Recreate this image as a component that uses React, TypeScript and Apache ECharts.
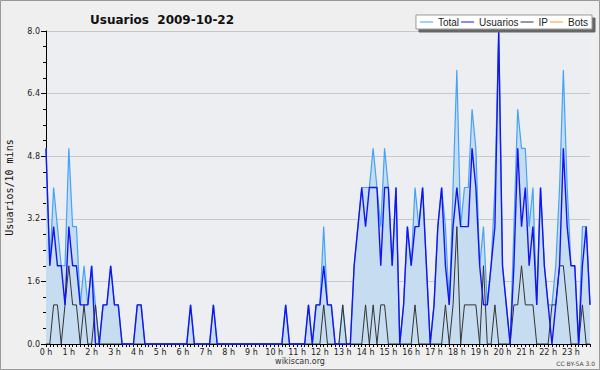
import React, { useEffect, useRef } from "react";
import * as echarts from "echarts";

// Hour tick labels (one every 6 ten-minute slots)
const hourLabels = [
  "0 h", "1 h", "2 h", "3 h", "4 h", "5 h", "6 h", "7 h", "8 h", "9 h", "10 h", "11 h",
  "12 h", "13 h", "14 h", "15 h", "16 h", "17 h", "18 h", "19 h", "20 h", "21 h", "22 h", "23 h",
];

// Values per 10-minute slot (144 slots)
const usuarios = [
  5, 2, 3, 2, 2, 1, 3, 2, 2, 1, 1, 1,
  2, 0, 0, 1, 1, 2, 1, 1, 0, 0, 0, 0,
  1, 1, 0, 0, 0, 0, 0, 0, 0, 0, 0, 0,
  0, 0, 1, 0, 0, 0, 0, 0, 1, 0, 0, 0,
  0, 0, 0, 0, 0, 0, 0, 0, 0, 0, 0, 0,
  0, 0, 0, 1, 0, 0, 0, 0, 0, 1, 0, 1,
  1, 2, 1, 1, 0, 0, 0, 0, 0, 2, 3, 4,
  3, 4, 4, 4, 2, 4, 4, 2, 4, 0, 1, 3,
  2, 3, 3, 4, 2, 0, 1, 3, 4, 2, 1, 3,
  4, 3, 3, 3, 5, 4, 2, 1, 1, 2, 3, 8,
  2, 1, 0, 2, 5, 3, 4, 2, 3, 1, 4, 2,
  1, 0, 1, 2, 5, 3, 2, 2, 0, 2, 3, 1,
];

const ip = [
  0, 0, 1, 1, 0, 1, 2, 1, 1, 0, 1, 0,
  0, 1, 0, 0, 0, 0, 0, 0, 0, 0, 0, 0,
  0, 0, 0, 0, 0, 0, 0, 0, 0, 0, 0, 0,
  0, 0, 0, 0, 0, 0, 0, 0, 0, 0, 0, 0,
  0, 0, 0, 0, 0, 0, 0, 0, 0, 0, 0, 0,
  0, 0, 0, 0, 0, 0, 0, 0, 0, 0, 0, 0,
  0, 1, 0, 0, 0, 0, 1, 0, 0, 0, 0, 0,
  1, 0, 1, 0, 1, 1, 0, 0, 0, 0, 0, 0,
  0, 1, 0, 0, 0, 0, 0, 0, 0, 1, 0, 1,
  3, 0, 1, 1, 1, 1, 0, 2, 0, 0, 1, 0,
  0, 0, 0, 1, 1, 2, 1, 1, 1, 0, 0, 0,
  0, 1, 1, 2, 2, 1, 0, 0, 0, 1, 0, 0,
];

const total = [
  5, 2, 4, 3, 2, 2, 5, 3, 3, 1, 2, 1,
  2, 1, 0, 1, 1, 2, 1, 1, 0, 0, 0, 0,
  1, 1, 0, 0, 0, 0, 0, 0, 0, 0, 0, 0,
  0, 0, 1, 0, 0, 0, 0, 0, 1, 0, 0, 0,
  0, 0, 0, 0, 0, 0, 0, 0, 0, 0, 0, 0,
  0, 0, 0, 1, 0, 0, 0, 0, 0, 1, 0, 1,
  1, 3, 1, 1, 0, 0, 1, 0, 0, 2, 3, 4,
  4, 4, 5, 4, 3, 5, 4, 2, 4, 0, 1, 3,
  2, 4, 3, 4, 2, 0, 1, 3, 4, 3, 1, 4,
  7, 3, 4, 4, 6, 5, 2, 3, 1, 2, 4, 8,
  2, 1, 0, 3, 6, 5, 5, 3, 4, 1, 4, 2,
  1, 1, 2, 4, 7, 4, 2, 2, 0, 3, 3, 1,
];

const bots: number[] = [];

const slotsPerHour = 6;
const categories = total.map((_, i) =>
  i % slotsPerHour === 0 ? hourLabels[i / slotsPerHour] : ""
);

export default function App() {
  const ref = useRef<HTMLDivElement>(null);

  useEffect(() => {
    if (!ref.current) return;
    const chart = echarts.init(ref.current, undefined, { renderer: "svg" });
    const font = "DejaVu Sans";
    chart.setOption({
      animation: false,
      backgroundColor: "#efefef",
      title: {
        text: "Usuarios  2009-10-22",
        left: 85,
        top: 9,
        textStyle: { fontFamily: font, fontSize: 12, fontWeight: "bold", color: "#111" },
      },
      legend: {
        right: 8,
        top: 15,
        icon: "rect",
        itemWidth: 13,
        itemHeight: 1,
        itemGap: 2,
        padding: [2, 4, 2, 4],
        backgroundColor: "#ffffff",
        borderColor: "#999",
        borderWidth: 1,
        shadowColor: "#666",
        shadowOffsetX: 3,
        shadowOffsetY: 3,
        shadowBlur: 0,
        textStyle: { fontFamily: "Liberation Sans", fontSize: 10, color: "#222" },
        data: ["Total", "Usuarios", "IP", "Bots"],
      },
      grid: {
        left: 46,
        right: 10,
        top: 31,
        bottom: 26,
        show: true,
        backgroundColor: "#eceef1",
        borderWidth: 0,
        containLabel: false,
        outerBoundsMode: "none",
      },
      xAxis: {
        type: "category",
        boundaryGap: false,
        data: categories,
        axisLine: { lineStyle: { color: "#000", width: 1 } },
        axisTick: { show: true, interval: 0, length: 3, lineStyle: { color: "#000" } },
        axisLabel: {
          interval: (i: number) => i % slotsPerHour === 0,
          margin: 4,
          fontFamily: font,
          fontSize: 8,
          color: "#222",
        },
        splitLine: { show: false },
      },
      yAxis: {
        type: "value",
        min: 0,
        max: 8,
        interval: 1.6,
        name: "Usuarios/10 mins",
        nameLocation: "middle",
        nameGap: 32,
        nameTextStyle: { fontFamily: "DejaVu Sans Mono", fontSize: 10, color: "#111" },
        axisLine: { show: true, lineStyle: { color: "#000", width: 1 } },
        axisTick: { show: true, length: 5, lineStyle: { color: "#000" } },
        minorTick: { show: true, splitNumber: 4, length: 3, lineStyle: { color: "#000" } },
        axisLabel: {
          margin: 6,
          fontFamily: font,
          fontSize: 8,
          color: "#222",
          formatter: (v: number) => v.toFixed(1),
        },
        splitLine: { show: true, lineStyle: { color: "#c8c8c8", width: 1 } },
      },
      series: [
        {
          name: "Total",
          type: "line",
          data: total,
          symbol: "none",
          itemStyle: { color: "#44a2f8" },
          lineStyle: { color: "#44a2f8", width: 1.2 },
          areaStyle: { color: "#c6dcf0", opacity: 1 },
          z: 1,
        },
        {
          name: "Usuarios",
          type: "line",
          data: usuarios,
          symbol: "none",
          itemStyle: { color: "#1414f0" },
          lineStyle: { color: "#1414f0", width: 1.4 },
          z: 3,
        },
        {
          name: "IP",
          type: "line",
          data: ip,
          symbol: "none",
          itemStyle: { color: "#333333" },
          lineStyle: { color: "#333333", width: 1 },
          z: 2,
        },
        {
          name: "Bots",
          type: "line",
          data: bots,
          symbol: "none",
          itemStyle: { color: "#ff9a1a" },
          lineStyle: { color: "#ff9a1a", width: 1 },
          z: 4,
        },
      ],
      graphic: [
        {
          type: "rect",
          shape: { x: 0.5, y: 0.5, width: 599, height: 369 },
          style: { fill: "none", stroke: "#9a9a9a", lineWidth: 1 },
          silent: true,
        },
        {
          type: "text",
          x: 300,
          y: 361,
          style: {
            text: "wikiscan.org",
            fontFamily: font,
            fontSize: 8,
            fill: "#333",
            textAlign: "center",
            textVerticalAlign: "middle",
          },
        },
        {
          type: "text",
          x: 595,
          y: 363,
          style: {
            text: "CC BY-SA 3.0",
            fontFamily: font,
            fontSize: 6,
            fill: "#444",
            textAlign: "right",
            textVerticalAlign: "middle",
          },
        },
      ],
    });
    return () => chart.dispose();
  }, []);

  return (
    <div
      ref={ref}
      style={{ position: "fixed", left: 0, top: 0, width: 600, height: 370 }}
    />
  );
}
